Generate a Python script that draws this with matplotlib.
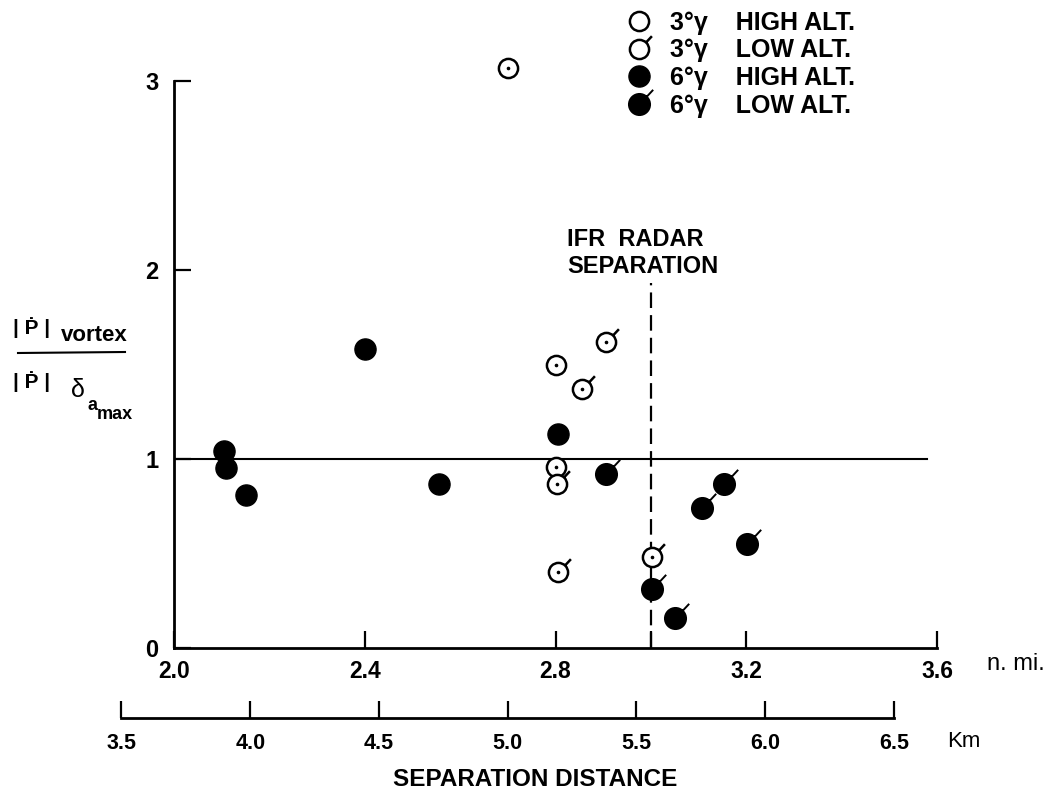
import numpy as np
import matplotlib
matplotlib.use('Agg')
import matplotlib.pyplot as plt
from matplotlib.path import Path
from matplotlib.lines import Line2D

plt.rcParams['font.family'] = ['Liberation Sans', 'DejaVu Sans']
plt.rcParams['font.weight'] = 'bold'

# separation (n. mi.) and roll-rate ratio
open_high_x = [2.70, 2.80, 2.80]
open_high_y = [3.07, 1.50, 0.96]
open_low_x = [2.906, 2.855, 2.803, 2.806, 3.003]
open_low_y = [1.62, 1.37, 0.87, 0.40, 0.48]
fill_high_x = [2.105, 2.108, 2.151, 2.40, 2.555, 2.806]
fill_high_y = [1.04, 0.95, 0.81, 1.58, 0.87, 1.13]
fill_low_x = [2.905, 3.003, 3.051, 3.108, 3.154, 3.202]
fill_low_y = [0.92, 0.31, 0.16, 0.74, 0.87, 0.55]

legend_labels = ['3\u00b0\u03b3    HIGH ALT.', '3\u00b0\u03b3    LOW ALT.',
                 '6\u00b0\u03b3    HIGH ALT.', '6\u00b0\u03b3    LOW ALT.']

nmi_ticks = [2.0, 2.4, 2.8, 3.0, 3.2, 3.6]
nmi_labels = ['2.0', '2.4', '2.8', '', '3.2', '3.6']
km_ticks = [3.5, 4.0, 4.5, 5.0, 5.5, 6.0, 6.5]
km_labels = ['3.5', '4.0', '4.5', '5.0', '5.5', '6.0', '6.5']
y_ticks = [0, 1, 2, 3]

ref_line_x = [2.0, 3.58]
ref_level = 1.0
ifr_sep = 3.0
ifr_top = 1.93
KM_PER_NMI = 1.852

W, H = 1052, 794


def fx(px):
    return px / W


def fy(py):
    return 1 - py / H


def flag_marker(ang=47, ext=1.9):
    """circle with a short stroke sticking out to the upper right"""
    a = np.radians(ang)
    seg = Path([[np.cos(a), np.sin(a)], [ext * np.cos(a), ext * np.sin(a)]],
               [Path.MOVETO, Path.LINETO])
    p = Path.make_compound_path(Path.unit_circle(), seg)
    scale = max(1.0, ext * np.sin(a), ext * np.cos(a))
    return p, scale


flag, flag_scale = flag_marker()
r_open = 6.9
r_fill = 7.6

fig = plt.figure(figsize=(10.52, 7.94), dpi=100)
ax_l, ax_r = 174, 937
ax = fig.add_axes([fx(ax_l), fy(648), fx(ax_r) - fx(ax_l), fy(81) - fy(648)])
ax.set_xlim(2.0, 3.6)
ax.set_ylim(0, 3)

ax.plot(ref_line_x, [ref_level, ref_level], color='k', lw=1.5, zorder=2)
ax.plot([ifr_sep, ifr_sep], [0, ifr_top], color='k', lw=1.6, dashes=(7, 3.2), zorder=2)

h1, = ax.plot(open_high_x, open_high_y, ls='none', marker='o', ms=2 * r_open,
              mfc='white', mec='k', mew=1.8, clip_on=False, zorder=3)
h2, = ax.plot(open_low_x, open_low_y, ls='none', marker=flag, ms=2 * r_open * flag_scale,
              mfc='white', mec='k', mew=1.8, clip_on=False, zorder=3)
h3, = ax.plot(fill_high_x, fill_high_y, ls='none', marker='o', ms=2 * r_fill,
              mfc='k', mec='k', mew=1.0, clip_on=False, zorder=3)
h4, = ax.plot(fill_low_x, fill_low_y, ls='none', marker=flag, ms=2 * r_fill * flag_scale,
              mfc='k', mec='k', mew=1.4, clip_on=False, zorder=3)
# little centre dots in the open symbols
ax.plot(open_high_x + open_low_x, open_high_y + open_low_y, ls='none', marker='o',
        ms=1.6, color='k', clip_on=False, zorder=4)

for s in ['top', 'right']:
    ax.spines[s].set_visible(False)
for s in ['left', 'bottom']:
    ax.spines[s].set_linewidth(2)
ax.set_xticks(nmi_ticks)
ax.set_xticklabels(nmi_labels)
ax.set_yticks(y_ticks)
ax.tick_params(direction='in', length=12, width=1.6, color='k')
ax.tick_params(axis='x', labelsize=16.5, pad=9)
ax.tick_params(axis='y', labelsize=17, pad=11)

ax.text(2.824, 1.96, 'IFR  RADAR\nSEPARATION', fontsize=17, ha='left', va='bottom',
        linespacing=1.2)

leg = ax.legend([h1, h2, h3, h4], legend_labels, loc='upper left',
                bbox_to_anchor=(fx(624), fy(11)), bbox_transform=fig.transFigure,
                frameon=False, fontsize=18, handlelength=1.2, handletextpad=0.62,
                labelspacing=0.14, borderpad=0, borderaxespad=0)

# kilometre scale underneath
scale_px = (ax_r - ax_l) / 1.6
km_l = ax_l + (km_ticks[0] / KM_PER_NMI - 2.0) * scale_px
km_r = ax_l + (km_ticks[-1] / KM_PER_NMI - 2.0) * scale_px
kax = fig.add_axes([fx(km_l), fy(718), fx(km_r) - fx(km_l), 0.0001])
kax.set_xlim(km_ticks[0], km_ticks[-1])
kax.patch.set_visible(False)
for s in ['top', 'right', 'left']:
    kax.spines[s].set_visible(False)
kax.spines['bottom'].set_linewidth(2)
kax.set_yticks([])
kax.set_xticks(km_ticks)
kax.set_xticklabels(km_labels)
kax.tick_params(axis='x', direction='in', length=12, width=1.6, labelsize=15.5, pad=11)

fig.text(fx(987), fy(670), 'n. mi.', fontsize=17, weight='normal', ha='left', va='baseline')
fig.text(fx(947), fy(747), 'Km', fontsize=16, weight='normal', ha='left', va='baseline')
fig.text(fx(535), fy(780), 'SEPARATION DISTANCE', fontsize=17.5, ha='center', va='center')

# y label as a hand-built fraction
fig.text(fx(13), fy(334), '| \u1e56 |', fontsize=15, ha='left', va='baseline')
fig.text(fx(61), fy(341), 'vortex', fontsize=16, ha='left', va='baseline')
fig.add_artist(Line2D([fx(18), fx(125)], [fy(353), fy(352)], color='k', lw=1.5))
fig.text(fx(13), fy(388), '| \u1e56 |', fontsize=15, ha='left', va='baseline')
fig.text(fx(71), fy(397), '\u03b4', fontsize=18, weight='normal', ha='left', va='baseline')
fig.text(fx(87), fy(410), 'a', fontsize=13, ha='left', va='baseline')
fig.text(fx(97), fy(419), 'max', fontsize=13, ha='left', va='baseline')

fig.savefig('out.png', dpi=100)
